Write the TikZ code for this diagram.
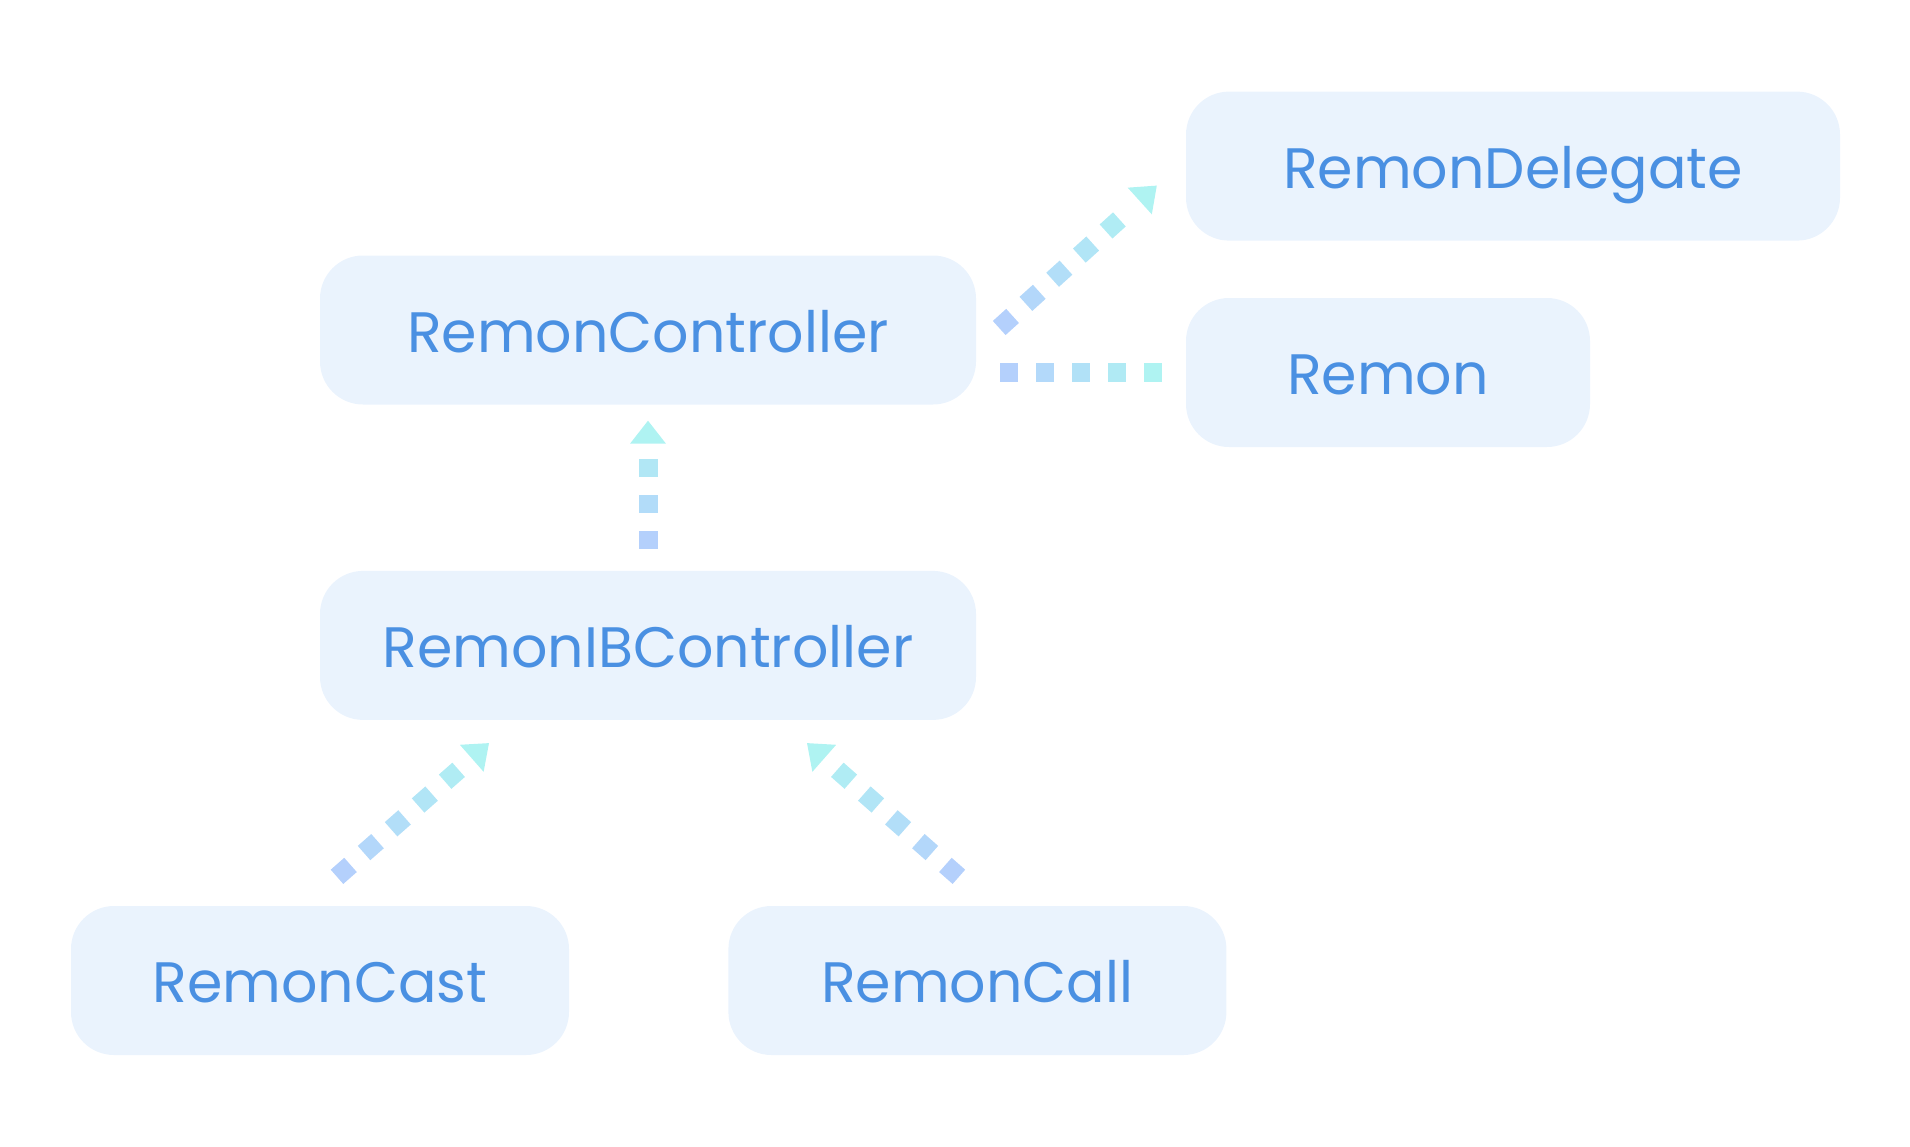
\documentclass[tikz,border=0pt]{standalone}
\usepackage{fontspec}
\setmainfont{Poppins}
\usetikzlibrary{positioning, calc}

\definecolor{boxfill}{RGB}{234,243,253}
\definecolor{boxtext}{RGB}{74,144,226}
\definecolor{dashblue}{RGB}{180,208,252}
\definecolor{dashcyan}{RGB}{175,243,242}

% dashes from #1 towards #2, #3 of them, colour steps over #4
\newcommand{\dashrun}[4]{%
  \foreach \i in {1,...,#3}{%
    \pgfmathsetmacro\dfrom{36*(\i-1)}%
    \pgfmathsetmacro\dto{36*(\i-1)+18}%
    \pgfmathsetmacro\dmix{100*(\i-1)/#4}%
    \draw[dashseg, draw=dashcyan!\dmix!dashblue] ($(#1)!\dfrom pt!(#2)$) -- ($(#1)!\dto pt!(#2)$);
  }}
% triangle tip at #2, pointing away from #1
\newcommand{\arrowtip}[2]{%
  \coordinate (tipbase) at ($(#2)!23pt!(#1)$);
  \fill[dashcyan] (#2) -- ($(tipbase)!18pt!90:(#2)$) -- ($(tipbase)!18pt!-90:(#2)$) -- cycle;}

\begin{document}
\begin{tikzpicture}
    [x=1pt, y=-1pt,
    classnode/.style={rectangle, rounded corners=43pt, fill=boxfill, text=boxtext,
        minimum height=149pt, inner sep=0pt, text height=44pt, text depth=0pt,
        font=\fontsize{57}{65}\selectfont},
    dashseg/.style={line width=19pt}]

    \useasboundingbox (0,0) rectangle (1910,1146);

    %Nodes
    \node[classnode, minimum width=656pt](RemonController) at (648,330) {RemonController};
    \node[classnode, minimum width=656pt](RemonIBController)[below=166pt of RemonController] {RemonIBController};
    \node[classnode, minimum width=498pt](RemonCast) at (320,980.5) {RemonCast};
    \node[classnode, minimum width=498pt](RemonCall)[right=159pt of RemonCast] {RemonCall};
    \node[classnode, minimum width=404pt](Remon) at (1388,372.5) {Remon};
    \node[classnode, minimum width=654pt](RemonDelegate)[above=57pt of Remon.north west, anchor=south west] {RemonDelegate};

    %Points
    \coordinate (upfrom) at ($(RemonIBController.north)+(0,-22)$);
    \coordinate (upto) at ($(RemonController.south)+(0,16)$);
    \coordinate (castfrom) at ($(RemonCast.north)+(17,-29)$);
    \coordinate (castto) at ($(RemonIBController.south)+(-159,23)$);
    \coordinate (callfrom) at ($(RemonCall.north)+(-18.5,-29)$);
    \coordinate (callto) at ($(RemonIBController.south)+(159,23)$);
    \coordinate (delegatefrom) at ($(RemonController.east)+(23,-2)$);
    \coordinate (delegateto) at ($(RemonDelegate.west)+(-29,19.5)$);
    \coordinate (remonfrom) at ($(RemonController.east |- Remon.west)+(24,0)$);
    \coordinate (remonto) at ($(Remon.west)+(-24,0)$);

    %Lines
    \dashrun{upfrom}{upto}{3}{3}
    \arrowtip{upfrom}{upto}
    \dashrun{castfrom}{castto}{5}{5}
    \arrowtip{castfrom}{castto}
    \dashrun{callfrom}{callto}{5}{5}
    \arrowtip{callfrom}{callto}
    \dashrun{delegatefrom}{delegateto}{5}{5}
    \arrowtip{delegatefrom}{delegateto}
    \dashrun{remonfrom}{remonto}{5}{4}

\end{tikzpicture}
\end{document}
